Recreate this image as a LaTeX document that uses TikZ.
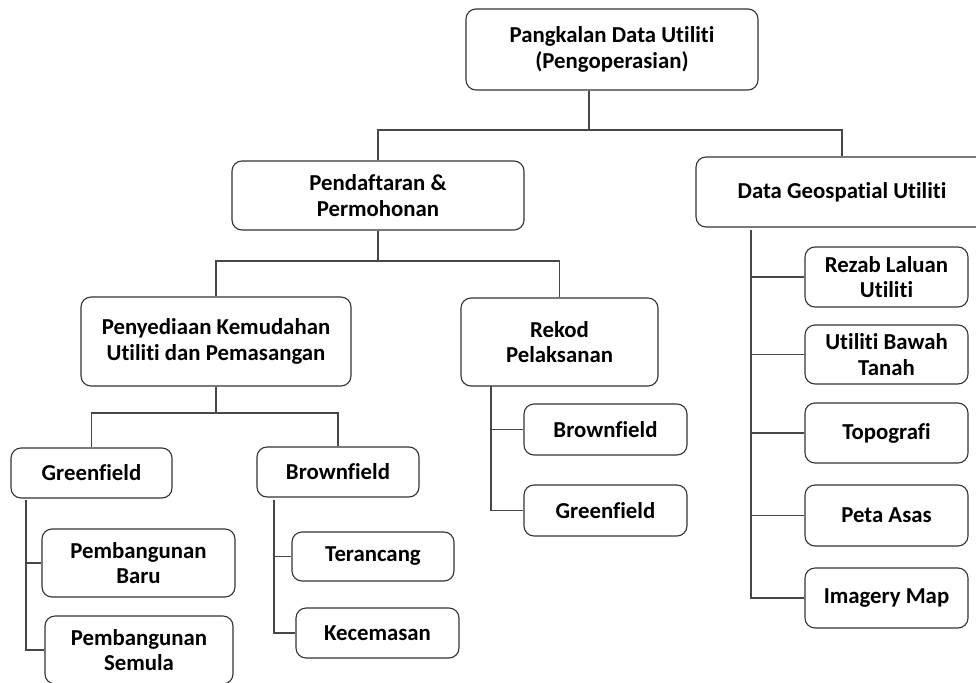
\documentclass[tikz,border=0pt]{standalone}
\usepackage{fontspec}
\setmainfont{Carlito}[Ligatures=NoCommon]
\begin{document}
\begin{tikzpicture}[x=1pt,y=-1pt,
  box/.style={draw=black!80, line width=1.1pt, rounded corners=10pt, fill=white,
    inner sep=0pt, align=center, text=black,
    font=\bfseries\fontsize{22.8}{25.5}\selectfont},
  link/.style={draw=black!72, line width=1.1pt}]
\useasboundingbox (0,0) rectangle (976,682);
\clip (0,0) rectangle (976,682);

% boxes
\node[box, minimum width=292pt, minimum height=81pt] (top) at (612,49.5) {Pangkalan Data Utiliti\\(Pengoperasian)};
\node[box, minimum width=292pt, minimum height=69pt] (pend) at (378,195.5) {Pendaftaran \&\\Permohonan};
\node[box, minimum width=292pt, minimum height=70pt] (geo) at (842,192) {Data Geospatial Utiliti};
\node[box, minimum width=270pt, minimum height=89pt] (peny) at (216,341.5) {Penyediaan Kemudahan\\Utiliti dan Pemasangan};
\node[box, minimum width=197pt, minimum height=88pt] (rekod) at (559.5,342) {Rekod\\Pelaksanan};
\node[box, minimum width=161pt, minimum height=50pt] (green) at (91.5,473) {Greenfield};
\node[box, minimum width=162pt, minimum height=50pt] (brown) at (338,472) {Brownfield};
\node[box, minimum width=193pt, minimum height=68pt] (baru) at (138.5,563) {Pembangunan\\Baru};
\node[box, minimum width=188pt, minimum height=68pt] (semula) at (139,650) {Pembangunan\\Semula};
\node[box, minimum width=162pt, minimum height=49pt] (teran) at (373,556.5) {Terancang};
\node[box, minimum width=163pt, minimum height=50pt] (kecem) at (377.5,633) {Kecemasan};
\node[box, minimum width=163pt, minimum height=51pt] (rbrown) at (605.5,429.5) {Brownfield};
\node[box, minimum width=163pt, minimum height=51pt] (rgreen) at (605.5,510.5) {Greenfield};
\node[box, minimum width=163pt, minimum height=60pt] (rezab) at (886.5,277) {Rezab Laluan\\Utiliti};
\node[box, minimum width=163pt, minimum height=59pt] (bawah) at (886.5,354.5) {Utiliti Bawah\\Tanah};
\node[box, minimum width=163pt, minimum height=60pt] (topo) at (886.5,433) {Topografi};
\node[box, minimum width=163pt, minimum height=61pt] (peta) at (886.5,515.5) {Peta Asas};
\node[box, minimum width=163pt, minimum height=60pt] (imag) at (886.5,598) {Imagery Map};

% junction points
\coordinate (j0) at (589,130);
\coordinate (j1) at (378,261);
\coordinate (j2) at (216,413);
\coordinate (g0) at (26,500);
\coordinate (b0) at (274,500);
\coordinate (r0) at (491,386);
\coordinate (d0) at (751,230);

% connectors
\draw[link] (top.south -| j0) -- (j0);
\draw[link] (pend.north) |- (j0) -| (geo.north);
\draw[link] (pend.south) -- (j1);
\draw[link] (peny.north) |- (j1) -| (rekod.north);
\draw[link] (peny.south) -- (j2);
\draw[link] (green.north) |- (j2) -| (brown.north);
\draw[link] (g0) |- (baru.west);
\draw[link] (g0) |- (semula.west);
\draw[link] (b0) |- (teran.west);
\draw[link] (b0) |- (kecem.west);
\draw[link] (r0) |- (rbrown.west);
\draw[link] (r0) |- (rgreen.west);
\draw[link] (d0) |- (rezab.west);
\draw[link] (d0) |- (bawah.west);
\draw[link] (d0) |- (topo.west);
\draw[link] (d0) |- (peta.west);
\draw[link] (d0) |- (imag.west);
\end{tikzpicture}
\end{document}
